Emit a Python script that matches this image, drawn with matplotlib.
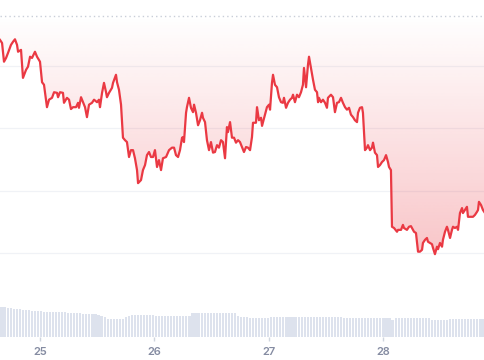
import numpy as np
import matplotlib.pyplot as plt
from matplotlib.patches import Polygon

# price series (time in days of month, price)
times = [24.650, 24.668, 24.685, 24.703, 24.720, 24.746, 24.764, 24.781, 24.799, 24.808,
         24.834, 24.851, 24.878, 24.895, 24.913, 24.930, 24.956, 24.974, 25.000, 25.018,
         25.035, 25.061, 25.079, 25.105, 25.123, 25.149, 25.158, 25.175, 25.201, 25.210,
         25.236, 25.254, 25.271, 25.289, 25.315, 25.333, 25.341, 25.359, 25.376, 25.394,
         25.411, 25.429, 25.455, 25.473, 25.499, 25.516, 25.525, 25.543, 25.560, 25.578,
         25.586, 25.604, 25.630, 25.639, 25.665, 25.674, 25.691, 25.709, 25.726, 25.744,
         25.761, 25.779, 25.796, 25.814, 25.831, 25.849, 25.858, 25.884, 25.901, 25.919,
         25.936, 25.954, 25.971, 25.989, 26.006, 26.024, 26.041, 26.059, 26.076, 26.103,
         26.120, 26.129, 26.155, 26.173, 26.190, 26.208, 26.225, 26.243, 26.251, 26.260,
         26.278, 26.286, 26.304, 26.321, 26.339, 26.348, 26.365, 26.383, 26.400, 26.418,
         26.426, 26.444, 26.461, 26.479, 26.496, 26.514, 26.531, 26.549, 26.566, 26.584,
         26.601, 26.619, 26.636, 26.645, 26.663, 26.680, 26.698, 26.715, 26.733, 26.750,
         26.768, 26.785, 26.803, 26.820, 26.838, 26.855, 26.864, 26.890, 26.899, 26.916,
         26.934, 26.943, 26.969, 26.986, 27.004, 27.013, 27.030, 27.039, 27.056, 27.074,
         27.091, 27.109, 27.126, 27.135, 27.153, 27.170, 27.188, 27.205, 27.214, 27.231,
         27.249, 27.266, 27.284, 27.301, 27.310, 27.328, 27.345, 27.354, 27.371, 27.389,
         27.406, 27.424, 27.433, 27.441, 27.459, 27.476, 27.494, 27.511, 27.520, 27.546,
         27.564, 27.581, 27.599, 27.616, 27.634, 27.651, 27.669, 27.686, 27.704, 27.721,
         27.739, 27.756, 27.774, 27.783, 27.800, 27.818, 27.826, 27.844, 27.861, 27.870,
         27.888, 27.905, 27.914, 27.931, 27.949, 27.958, 27.975, 27.993, 28.010, 28.028,
         28.045, 28.054, 28.071, 28.080, 28.098, 28.124, 28.133, 28.159, 28.176, 28.185,
         28.211, 28.229, 28.246, 28.264, 28.273, 28.290, 28.308, 28.325, 28.343, 28.351,
         28.369, 28.386, 28.395, 28.413, 28.430, 28.439, 28.456, 28.474, 28.483, 28.500,
         28.518, 28.526, 28.544, 28.561, 28.570, 28.588, 28.605, 28.614, 28.631, 28.649,
         28.658, 28.675, 28.693, 28.701, 28.719, 28.736, 28.745, 28.763, 28.780, 28.789,
         28.806, 28.824, 28.833, 28.841, 28.859, 28.876, 28.894]

prices = [64.42, 64.37, 64.07, 64.13, 64.21, 64.34, 64.39, 64.43, 64.34, 64.23,
          64.26, 63.81, 63.94, 63.99, 64.15, 64.13, 64.23, 64.15, 64.07, 63.74,
          63.70, 63.34, 63.46, 63.49, 63.58, 63.57, 63.50, 63.58, 63.57, 63.41,
          63.49, 63.46, 63.31, 63.34, 63.34, 63.41, 63.33, 63.50, 63.42, 63.34,
          63.18, 63.38, 63.41, 63.46, 63.42, 63.46, 63.34, 63.57, 63.73, 63.58,
          63.50, 63.57, 63.65, 63.73, 63.86, 63.74, 63.62, 63.38, 62.85, 62.81,
          62.78, 62.54, 62.65, 62.65, 62.52, 62.33, 62.12, 62.17, 62.33, 62.41,
          62.57, 62.62, 62.54, 62.54, 62.65, 62.38, 62.49, 62.33, 62.52, 62.54,
          62.61, 62.65, 62.69, 62.69, 62.57, 62.54, 62.65, 62.85, 62.86, 62.78,
          63.25, 63.34, 63.49, 63.33, 63.26, 63.38, 63.25, 63.05, 63.13, 63.25,
          63.17, 63.10, 62.81, 62.65, 62.78, 62.61, 62.62, 62.73, 62.69, 62.81,
          62.78, 62.52, 63.02, 62.94, 63.10, 62.85, 62.85, 62.77, 62.81, 62.78,
          62.70, 62.62, 62.70, 62.69, 62.65, 62.86, 63.09, 63.09, 63.34, 63.13,
          63.17, 63.04, 63.22, 63.34, 63.38, 63.30, 63.73, 63.86, 63.70, 63.66,
          63.50, 63.42, 63.41, 63.49, 63.33, 63.41, 63.46, 63.49, 63.54, 63.42,
          63.54, 63.50, 63.58, 63.70, 63.97, 63.66, 64.02, 64.15, 63.97, 63.78,
          63.62, 63.58, 63.42, 63.49, 63.42, 63.46, 63.41, 63.33, 63.49, 63.54,
          63.50, 63.26, 63.41, 63.42, 63.49, 63.41, 63.34, 63.30, 63.33, 63.22,
          63.18, 63.13, 63.10, 63.25, 63.33, 63.34, 63.25, 62.65, 62.69, 62.73,
          62.65, 62.69, 62.77, 62.61, 62.57, 62.38, 62.41, 62.46, 62.49, 62.57,
          62.46, 62.38, 62.33, 61.42, 61.40, 61.34, 61.37, 61.37, 61.45, 61.40,
          61.37, 61.42, 61.43, 61.37, 61.34, 61.32, 61.02, 61.02, 61.05, 61.16,
          61.21, 61.24, 61.18, 61.16, 61.14, 61.08, 60.98, 61.10, 61.06, 61.16,
          61.10, 61.21, 61.34, 61.42, 61.37, 61.24, 61.37, 61.42, 61.40, 61.42,
          61.37, 61.64, 61.72, 61.64, 61.69, 61.74, 61.58, 61.58, 61.58, 61.58,
          61.61, 61.66, 61.69, 61.82, 61.77, 61.69, 61.64]

# volume per bar (millions)
volumes = [30.2, 29.8, 29.3, 28.9,
           28.4, 28.1, 27.6, 27.3, 27.0, 26.6, 26.4,
           26.1, 25.9, 25.8, 25.5, 25.4, 25.3, 25.2, 25.2, 25.0, 24.9, 24.8,
           24.4, 24.2, 24.1, 24.0, 23.8, 23.5, 23.3, 23.2, 23.0, 22.9,
           22.1, 21.2, 20.3,
           18.4, 18.3, 18.2, 18.2, 18.3, 18.5,
           20.1, 20.6,
           21.8, 22.0, 22.1, 22.2, 22.1, 22.0, 21.9, 21.8,
           21.3, 21.2, 21.1, 21.0, 21.0, 21.1, 21.2, 21.0, 20.9, 21.0, 21.1, 21.3,
           23.6, 23.9, 24.0, 24.1, 24.1, 24.2, 24.2, 24.3, 24.2, 24.1, 24.0, 24.2, 24.3, 24.1, 23.8,
           20.6, 20.2, 19.9, 19.6,
           19.3, 19.2, 19.1, 19.2, 19.0, 19.1, 19.3,
           19.8, 19.9, 20.0, 20.1, 20.2, 20.1, 20.0, 20.2, 20.3, 20.1, 19.9, 20.0,
           20.1, 20.2, 20.0, 19.9, 20.0, 20.1, 20.2, 20.0, 19.9, 19.8, 19.7, 19.6,
           19.2, 19.1, 19.0, 19.1, 19.0, 18.9, 19.0, 19.1, 19.0, 18.9, 19.0, 19.1, 19.0, 18.9, 18.8, 18.9,
           17.4,
           18.8, 19.0, 19.1, 19.0, 19.1, 19.0, 18.9, 19.0, 19.1, 19.0, 18.9, 18.7,
           17.3, 17.2, 17.1, 17.2, 17.3, 17.4,
           18.0, 18.1, 18.2, 18.1, 18.2, 18.3, 18.2, 18.1, 18.2, 18.3, 18.2, 18.1]

tick_days = [25, 26, 27, 28]

line_color = '#ea3943'
t0, t1 = times[0], times[-1]
top_price = 64.80

fig = plt.figure(figsize=(4.85, 3.6), dpi=100)

# volume panel
axv = fig.add_axes([0, 23 / 360, 1, 40 / 360])
step = (t1 - t0) / len(volumes)
vol_t = np.linspace(t0 + step / 2, t1 - step / 2, len(volumes))
axv.bar(vol_t, volumes, width=step * 0.7, color='#dde2ed', linewidth=0)
axv.set_xlim(t0, t1)
axv.set_ylim(0, 40)
axv.set_facecolor('none')
for s in axv.spines.values():
    s.set_visible(False)
axv.set_yticks([])
axv.set_xticks(tick_days)
axv.set_xticklabels([str(d) for d in tick_days], fontsize=8, color='#858ca2',
                    fontfamily='Inter', fontweight='semibold')
axv.tick_params(axis='x', length=3, width=1, color='#cfd5de', pad=4)

# price panel
ax = fig.add_axes([0, 23 / 360, 1, 323 / 360])
ax.set_facecolor('none')
ax.set_xlim(t0, t1)
ax.set_ylim(59.65, 64.836)
for s in ax.spines.values():
    s.set_visible(False)
ax.set_xticks([])
ax.set_yticks([])

for g in [61, 62, 63, 64]:
    ax.axhline(g, color='#f0f2f6', lw=0.9, zorder=0)
ax.axhline(top_price, color='#c9ced8', lw=1.0, ls=(0, (1, 2.2)), zorder=0)

# gradient fill between line and top
grad = np.zeros((256, 1, 4))
grad[:, 0, 0] = 234 / 255
grad[:, 0, 1] = 57 / 255
grad[:, 0, 2] = 67 / 255
grad[:, 0, 3] = np.linspace(0.0, 0.30, 256)
img = ax.imshow(grad, extent=[t0, t1, 60.85, top_price], aspect='auto',
                origin='upper', zorder=1, interpolation='bilinear')
verts = [(t0, top_price)] + list(zip(times, prices)) + [(t1, top_price)]
poly = Polygon(verts, closed=True, facecolor='none', edgecolor='none',
               transform=ax.transData)
ax.add_patch(poly)
img.set_clip_path(poly)

ax.plot(times, prices, color=line_color, lw=1.6, zorder=3,
        solid_joinstyle='round')
ax.set_xlim(t0, t1)
ax.set_ylim(59.65, 64.836)

fig.savefig('out.png', dpi=100)
